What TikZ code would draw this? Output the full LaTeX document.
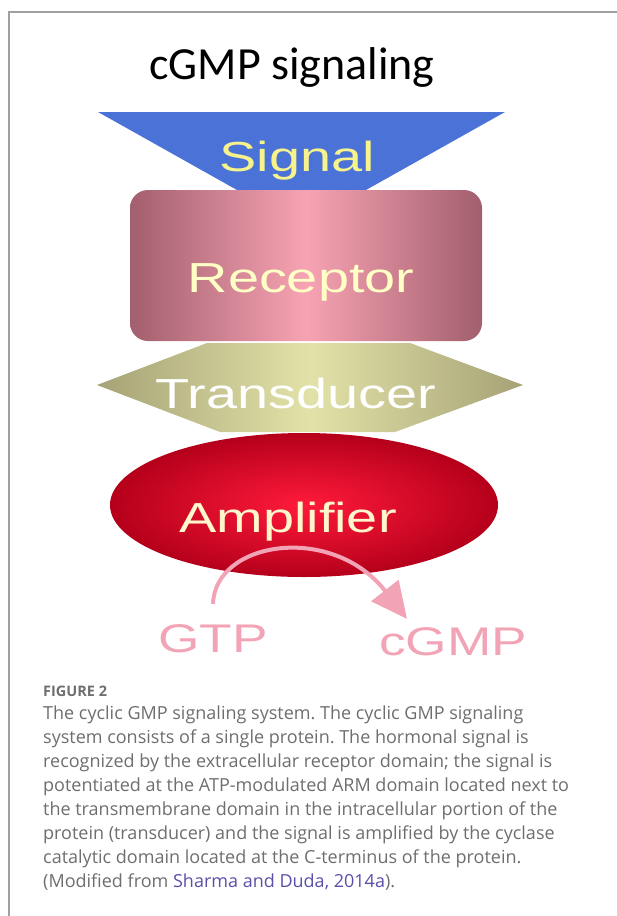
\documentclass[tikz,border=0pt]{standalone}
\usepackage{fontspec}
\usepackage{graphicx}
\setmainfont{Open Sans}
\newfontfamily\titlefont{Carlito}
\newfontfamily\boxfont{Liberation Sans}
\usetikzlibrary{arrows.meta}
\definecolor{frame}{HTML}{A0A0A0}
\definecolor{sigblue}{HTML}{4B72D7}
\definecolor{sigtext}{HTML}{F6F28C}
\definecolor{recdark}{HTML}{A25F6D}
\definecolor{reclight}{HTML}{F7A3B3}
\definecolor{rectext}{HTML}{FFFFC6}
\definecolor{trdark}{HTML}{A6A276}
\definecolor{trlight}{HTML}{E2E2A8}
\definecolor{ampdark}{HTML}{B5001B}
\definecolor{amplight}{HTML}{FF1A3A}
\definecolor{amptext}{HTML}{FFF6CC}
\definecolor{prod}{HTML}{F2A4B6}
\definecolor{captext}{HTML}{6E6E6E}
\definecolor{citelink}{HTML}{5A50A8}
\newcommand{\stretchx}[1]{\scalebox{1.33}[1]{#1}}
\tikzset{
  layer/.style={font=\boxfont\fontsize{42}{42}\selectfont, inner sep=0pt, anchor=base},
  prodlab/.style={text=prod, font=\boxfont\fontsize{40}{40}\selectfont, inner sep=0pt, anchor=base},
  conv/.style={draw=prod, line width=4pt, -{Triangle[length=36pt,width=34pt]}},
}
\frenchspacing

\begin{document}
\begin{tikzpicture}[x=1pt,y=-1pt]
  \useasboundingbox (0,0) rectangle (617,916);
  \draw[frame, line width=1.2pt] (617,12) -- (9,12) -- (9,916);

  \node[font=\titlefont\fontsize{46}{46}\selectfont, anchor=base, inner sep=0pt] (title) at (292,79) {cGMP signaling};

  % signal (inverted trapezoid)
  \fill[sigblue] (98,112) -- (505,112) -- (366,190) -- (237,190) -- cycle;
  \node[layer, text=sigtext] (signal) at (297,171) {\stretchx{Signal}};

  % receptor
  \shade[left color=recdark, right color=recdark, middle color=reclight, rounded corners=18pt] (130,190) rectangle (482,341);
  \node[layer, text=rectext] (receptor) at (301,292) {\stretchx{Receptor}};

  % transducer
  \shade[left color=trdark, right color=trdark, middle color=trlight]
    (97,385) -- (207,343) -- (410,343) -- (523,385) -- (395,432) -- (220,432) -- cycle;
  \node[layer, text=white] (transducer) at (296,408) {\stretchx{Transducer}};

  % amplifier
  \shade[inner color=amplight, outer color=ampdark] (304,505) ellipse [x radius=194pt, y radius=72pt];
  \node[layer, text=amptext] (amplifier) at (288,532) {\stretchx{Amplifier}};

  % GTP -> cGMP
  \node[prodlab] (gtp) at (213,652) {\stretchx{GTP}};
  \node[prodlab] (cgmp) at (453,655) {\stretchx{cGMP}};
  \draw[conv] ([yshift=20pt]gtp.north) .. controls +(2,-63) and +(-75,-96) .. ([xshift=-46pt,yshift=8pt]cgmp.north);

  % caption
  \node[font=\bfseries\fontsize{14.5}{14.5}\selectfont, text=captext, anchor=base west, inner sep=0pt] (fignum) at (43,696) {FIGURE 2};
  \node[font=\fontsize{18}{24}\selectfont, text=captext, align=left, anchor=north west, inner sep=0pt] (caption) at (43,706)
    {The cyclic GMP signaling system. The cyclic GMP signaling\\
     system consists of a single protein. The hormonal signal is\\
     recognized by the extracellular receptor domain; the signal is\\
     potentiated at the ATP-modulated ARM domain located next to\\
     the transmembrane domain in the intracellular portion of the\\
     protein (transducer) and the signal is amplified by the cyclase\\
     catalytic domain located at the C-terminus of the protein.\\
     (Modified from \textcolor{citelink}{Sharma and Duda, 2014a}).};
\end{tikzpicture}
\end{document}
